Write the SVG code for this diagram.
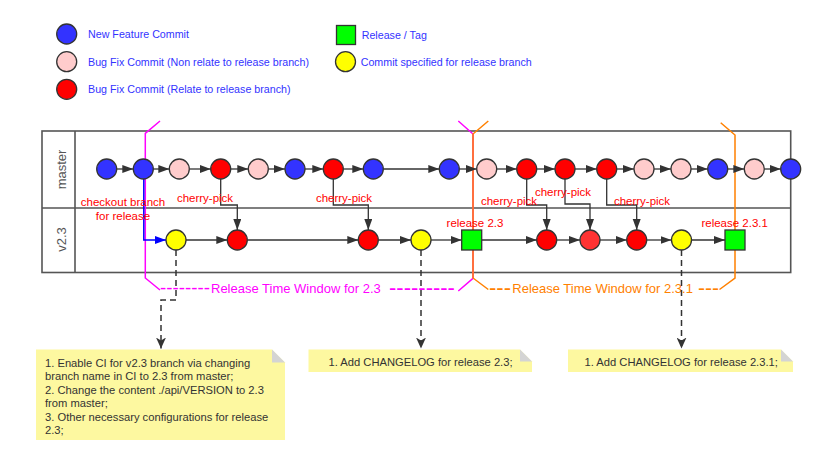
<svg xmlns="http://www.w3.org/2000/svg" width="834" height="464" viewBox="0 0 834 464">
<style>
text{font-family:"Liberation Sans",Arial,sans-serif}
.leg{font-size:10.7px;fill:#3333ff}
.red{font-size:11.5px;fill:#ff0000;text-anchor:middle}
.note{font-size:11.2px;fill:#333}
.lane{font-size:13px;fill:#555;text-anchor:middle}
.win{font-size:13px}
.c{stroke:#333;stroke-width:1.3}
.blue{fill:#3333ff}.pink{fill:#ffcccc}.redf{fill:#ff0000}.yel{fill:#ffff00}.grn{fill:#00ff00}
.e{fill:none;stroke:#333;stroke-width:1.3;marker-end:url(#ah)}
.d{fill:none;stroke:#333;stroke-width:1.5;stroke-dasharray:6 4;marker-end:url(#ad)}
.nb{fill:#fdf8a0}
.fold{fill:#d4d4d4}
</style>
<defs>
<marker id="ah" markerUnits="userSpaceOnUse" markerWidth="12" markerHeight="9" refX="11" refY="4" orient="auto"><path d="M0,0 L11,4 L0,8 z" fill="#333"/></marker>
<marker id="ab" markerUnits="userSpaceOnUse" markerWidth="12" markerHeight="9" refX="11" refY="4" orient="auto"><path d="M0,0 L11,4 L0,8 z" fill="#0000ff"/></marker>
<marker id="ad" markerUnits="userSpaceOnUse" markerWidth="12" markerHeight="10" refX="11" refY="5" orient="auto"><path d="M0,0 L11,5 L0,10 L3,5 z" fill="#333"/></marker>
</defs>

<g id="legend">
<circle class="c blue" cx="66.7" cy="34" r="10"/>
<text class="leg" x="88" y="38">New Feature Commit</text>
<circle class="c pink" cx="66.7" cy="61.7" r="10"/>
<text class="leg" x="88" y="65.5">Bug Fix Commit (Non relate to release branch)</text>
<circle class="c redf" cx="66.7" cy="89.3" r="10"/>
<text class="leg" x="88" y="93">Bug Fix Commit (Relate to release branch)</text>
<rect class="c grn" x="336.5" y="25.5" width="19" height="19"/>
<text class="leg" x="361.7" y="38.5">Release / Tag</text>
<circle class="c yel" cx="345.5" cy="61.7" r="10"/>
<text class="leg" x="360.7" y="65.5">Commit specified for release branch</text>
</g>

<g id="lanes">
<rect x="42" y="131" width="748.7" height="141.5" fill="none" stroke="#555" stroke-width="1.6"/>
<line x1="42" y1="208" x2="790.7" y2="208" stroke="#555" stroke-width="1.6"/>
<line x1="75" y1="131" x2="75" y2="272.5" stroke="#555" stroke-width="1.6"/>
<text class="lane" transform="translate(66,169.5) rotate(-90)">master</text>
<text class="lane" transform="translate(66,239.5) rotate(-90)">v2.3</text>
</g>

<g id="windows">
<path d="M160,121 L145.3,133.3 L145.3,278 L160,290 M458.3,291 L473,278.3 L473,134 L458.3,121" fill="none" stroke="#ff00ff" stroke-width="1.5"/>
<text class="win" fill="#ff00ff"><tspan x="160" y="294.2" font-size="18.8">--------</tspan><tspan x="211" y="293">Release Time Window for 2.3</tspan><tspan x="389" y="295" font-size="22">---------</tspan></text>
<path d="M488.3,121 L473,134 L473,278 L488.3,289.5 M719.5,289.5 L735,278 L735,135 L720.7,122.7" fill="none" stroke="#ff8000" stroke-width="1.5"/>
<text class="win" fill="#ff8000"><tspan x="489" y="295" font-size="22">---</tspan><tspan x="512.3" y="293">Release Time Window for 2.3.1</tspan><tspan x="698" y="294.8" font-size="21">---</tspan></text>
</g>

<g id="connectors">
<path class="e" d="M116.7,169 H133.3"/>
<path class="e" d="M153.3,169 H169.3"/>
<path class="e" d="M189.3,169 H210.7"/>
<path class="e" d="M230.7,169 H248.3"/>
<path class="e" d="M268.3,169 H285"/>
<path class="e" d="M305,169 H323.3"/>
<path class="e" d="M343.3,169 H363.3"/>
<path class="e" d="M383.3,169 H439.3"/>
<path class="e" d="M459.3,169 H476.7"/>
<path class="e" d="M496.7,169 H516.7"/>
<path class="e" d="M536.7,169 H555"/>
<path class="e" d="M575,169 H596.7"/>
<path class="e" d="M616.7,169 H634"/>
<path class="e" d="M654,169 H671"/>
<path class="e" d="M691,169 H707.7"/>
<path class="e" d="M727.7,169 H744.3"/>
<path class="e" d="M764.3,169 H780.7"/>

<path class="e" d="M186,240 H227.3"/>
<path class="e" d="M247.3,240 H358.3"/>
<path class="e" d="M378.3,240 H411"/>
<path class="e" d="M431,240 H461.7"/>
<path class="e" d="M481.7,240 H536.7"/>
<path class="e" d="M556.7,240 H580"/>
<path class="e" d="M600,240 H626.7"/>
<path class="e" d="M646.7,240 H671.5"/>
<path class="e" d="M691.5,240 H725"/>

<path class="e" d="M220.7,179 V205 H237.3 V230"/>
<path class="e" d="M333.3,179 V205 H368.3 V230"/>
<path class="e" d="M526.7,179 V205 H546.7 V230"/>
<path class="e" d="M565,179 V204 H590 V230"/>
<path class="e" d="M606.7,179 V205 H636.7 V230"/>

<path d="M143.8,179 V240 H166" fill="none" stroke="#0000ff" stroke-width="1.5" marker-end="url(#ab)"/>

<path class="d" d="M176,250 V300 H161 V348.5"/>
<path class="d" d="M421,250 V348.5"/>
<path class="d" d="M681.5,250 V348.5"/>
</g>

<g id="labels">
<text class="red" x="123" y="205.5">checkout branch</text>
<text class="red" x="123" y="219.5">for release</text>
<text class="red" x="205" y="201.7">cherry-pick</text>
<text class="red" x="344" y="202">cherry-pick</text>
<text class="red" x="509" y="205">cherry-pick</text>
<text class="red" x="563" y="195.7">cherry-pick</text>
<text class="red" x="642" y="205">cherry-pick</text>
<text class="red" x="475" y="227">release 2.3</text>
<text class="red" x="734.7" y="227">release 2.3.1</text>
</g>

<g id="master-commits">
<circle class="c blue" cx="106.7" cy="169" r="10"/>
<circle class="c blue" cx="143.3" cy="169" r="10"/>
<circle class="c pink" cx="179.3" cy="169" r="10"/>
<circle class="c redf" cx="220.7" cy="169" r="10"/>
<circle class="c pink" cx="258.3" cy="169" r="10"/>
<circle class="c blue" cx="295" cy="169" r="10"/>
<circle class="c redf" cx="333.3" cy="169" r="10"/>
<circle class="c blue" cx="373.3" cy="169" r="10"/>
<circle class="c blue" cx="449.3" cy="169" r="10"/>
<circle class="c pink" cx="486.7" cy="169" r="10"/>
<circle class="c redf" cx="526.7" cy="169" r="10"/>
<circle class="c redf" cx="565" cy="169" r="10"/>
<circle class="c redf" cx="606.7" cy="169" r="10"/>
<circle class="c pink" cx="644" cy="169" r="10"/>
<circle class="c pink" cx="681" cy="169" r="10"/>
<circle class="c blue" cx="717.7" cy="169" r="10"/>
<circle class="c pink" cx="754.3" cy="169" r="10"/>
<circle class="c blue" cx="790.7" cy="169" r="10"/>
</g>

<g id="release-commits">
<circle class="c yel" cx="176" cy="240" r="10"/>
<circle class="c redf" cx="237.3" cy="240" r="10"/>
<circle class="c redf" cx="368.3" cy="240" r="10"/>
<circle class="c yel" cx="421" cy="240" r="10"/>
<rect class="c grn" x="461.7" y="230" width="20" height="20"/>
<circle class="c redf" cx="546.7" cy="240" r="10"/>
<circle class="c" cx="590" cy="240" r="10" fill="#ff3333"/>
<circle class="c redf" cx="636.7" cy="240" r="10"/>
<circle class="c yel" cx="681.5" cy="240" r="10"/>
<rect class="c grn" x="725" y="230" width="20" height="20"/>
</g>

<g id="note1">
<path class="nb" d="M36,349.5 H272 L285,362.5 V440 H36 z"/>
<path class="fold" d="M272,349.5 L285,362.5 H272 z"/>
<text class="note"><tspan x="45" y="366.5">1. Enable CI for v2.3 branch via changing</tspan><tspan x="45" y="380">branch name in CI to 2.3 from master;</tspan><tspan x="45" y="393.5">2. Change the content ./api/VERSION to 2.3</tspan><tspan x="45" y="407">from master;</tspan><tspan x="45" y="420.5">3. Other necessary configurations for release</tspan><tspan x="45" y="434">2.3;</tspan></text>
</g>
<g id="note2">
<path class="nb" d="M308.5,349.5 H520 L532,361.5 V372 H308.5 z"/>
<path class="fold" d="M520,349.5 L532,361.5 H520 z"/>
<text class="note" x="328.5" y="365.5">1. Add CHANGELOG for release 2.3;</text>
</g>
<g id="note3">
<path class="nb" d="M568,349.5 H781 L793,361.5 V372 H568 z"/>
<path class="fold" d="M781,349.5 L793,361.5 H781 z"/>
<text class="note" x="584.5" y="365.5">1. Add CHANGELOG for release 2.3.1;</text>
</g>
</svg>
